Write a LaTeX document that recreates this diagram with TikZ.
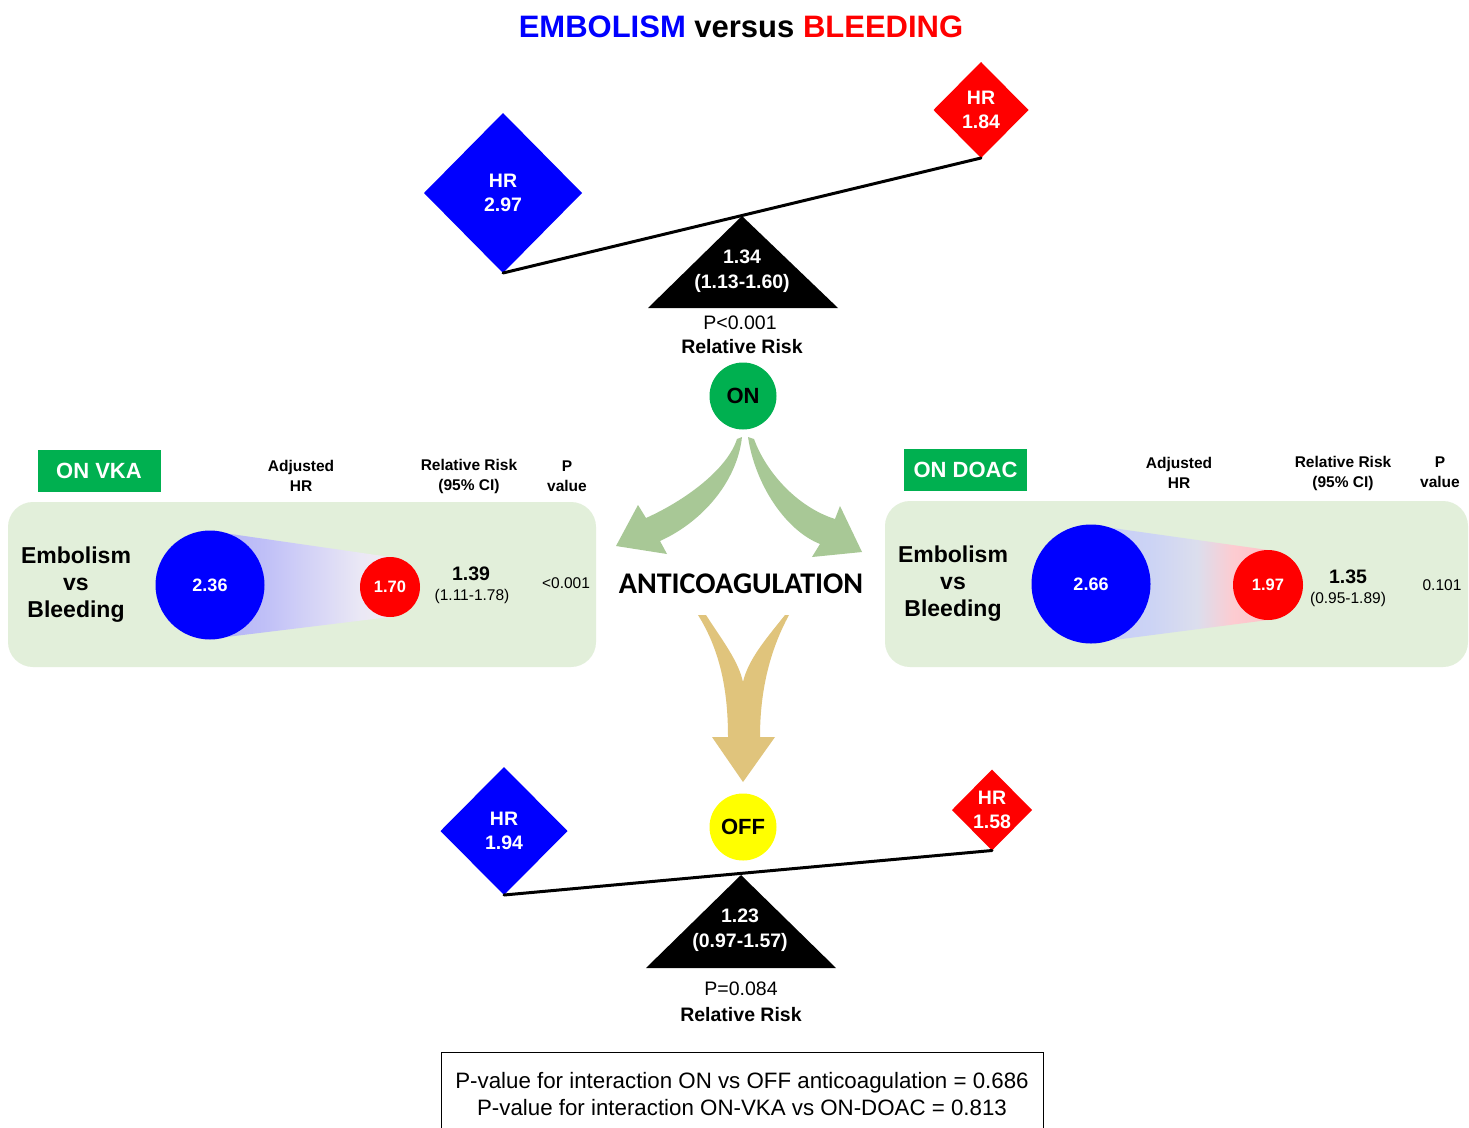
\documentclass[tikz,border=0pt]{standalone}
\usepackage{fontspec}
\setmainfont{Liberation Sans}
\newfontfamily\calfont{Carlito}
\usetikzlibrary{shapes.geometric}
\definecolor{ongreen}{RGB}{0,176,80}
\definecolor{panelgreen}{RGB}{226,239,218}
\definecolor{arrowgreen}{RGB}{168,200,150}
\definecolor{tanarrow}{RGB}{224,196,124}
\definecolor{offyellow}{RGB}{255,255,0}
\definecolor{pblue}{RGB}{0,0,255}
\definecolor{pred}{RGB}{255,0,0}
\pgfdeclarehorizontalshading{vkashade}{100bp}{rgb(0bp)=(0.70,0.70,0.96); rgb(25bp)=(0.70,0.70,0.96); rgb(40bp)=(0.75,0.75,0.97); rgb(67bp)=(0.92,0.91,0.96); rgb(75bp)=(0.95,0.92,0.95); rgb(100bp)=(0.95,0.92,0.95)}
\pgfdeclarehorizontalshading{doacshade}{100bp}{rgb(0bp)=(0.78,0.80,0.97); rgb(25bp)=(0.78,0.80,0.97); rgb(42bp)=(0.80,0.83,0.96); rgb(55bp)=(0.86,0.87,0.93); rgb(65bp)=(0.99,0.80,0.82); rgb(75bp)=(1,0.76,0.78); rgb(100bp)=(1,0.76,0.78)}
\newcommand\myfs[2]{\fontsize{#1}{#2}\selectfont}
\begin{document}
\begin{tikzpicture}[x=1pt,y=-1pt,
  dia/.style={diamond,aspect=1,inner sep=0pt,outer sep=0pt,text=white,align=center,font=\myfs{19.5}{24}\bfseries},
  trilab/.style={text=white,align=center,font=\myfs{19.5}{25}\bfseries,inner sep=0pt},
  plainlab/.style={font=\myfs{19.5}{23},inner sep=0pt},
  boldlab/.style={font=\myfs{19.5}{23}\bfseries,inner sep=0pt},
  hdr/.style={align=center,font=\myfs{15.5}{20}\bfseries,inner sep=0pt},
  evb/.style={align=center,font=\myfs{23}{27}\bfseries,inner sep=0pt},
  tagbox/.style={fill=ongreen,text=white,font=\myfs{22}{26}\bfseries,minimum width=123,minimum height=42,inner sep=0pt},
  ball/.style={circle,inner sep=0pt,outer sep=0pt,text=white,font=\myfs{18}{20}\bfseries},
  panelbox/.style={fill=panelgreen,rounded corners=25,inner sep=0pt},
  rrlab/.style={font=\myfs{19.5}{22}\bfseries,inner sep=0pt},
  cilab/.style={font=\myfs{15.5}{18},inner sep=0pt},
  onoff/.style={circle,minimum size=67,inner sep=0pt,font=\myfs{22}{24}\bfseries},
  beam/.style={line width=3pt,line cap=round}
]
\useasboundingbox (0,0) rectangle (1469,1127);
\fill[white] (0,0) rectangle (1469,1127);

% Title
\node[font=\myfs{31}{36}\bfseries] (title) at (741,27) {\textcolor{pblue}{EMBOLISM} versus \textcolor{pred}{BLEEDING}};

% ---------- Top seesaw ----------
\coordinate (apex1) at (742,216);
\coordinate (bl1) at (648,308);
\coordinate (br1) at (838,308);
\fill[black] (apex1) -- (br1) -- (bl1) -- cycle;
\node[dia,fill=pblue,minimum width=158,minimum height=160] (d1) at (503,193) {HR\\2.97};
\node[dia,fill=pred,minimum width=95,minimum height=96] (d2) at (981,110) {HR\\1.84};
\draw[beam] (d1.south) -- (d2.south);
\node[trilab] (rr1) at (742,271) {1.34\\(1.13-1.60)};
\node[plainlab] (p1) at (740,323) {P<0.001};
\node[boldlab] (rl1) at (742,347) {Relative Risk};
\node[onoff,fill=ongreen] (on) at (743,396) {ON};

% ---------- Green arrows ----------
\fill[arrowgreen] (737,439) .. controls (727,470) and (684,501) .. (646,518)
  -- (638,505) -- (616,546) -- (667,554) -- (660,541)
  .. controls (702,522) and (737,482) .. (742,437) -- cycle;
\fill[arrowgreen] (754,439) .. controls (766,472) and (797,507) .. (835,519)
  -- (840,506) -- (862,552) -- (812,557) -- (820,544)
  .. controls (785,530) and (755,484) .. (748,437) -- cycle;

\node[font=\myfs{30}{32}\calfont\bfseries] (anti) at (741,584) {ANTICOAGULATION};

% ---------- Tan arrow ----------
\fill[tanarrow] (698,615) .. controls (720,650) and (728,690) .. (728,737)
  -- (712,737) -- (743,782) -- (775,737) -- (760,737)
  .. controls (760,690) and (770,650) .. (789,615)
  -- (785,615) .. controls (765,640) and (748,660) .. (743,682)
  .. controls (738,660) and (722,640) .. (706,615) -- cycle;

% ---------- Left panel (VKA) ----------
\node[tagbox] (vka) at (99,470.5) {ON VKA};
\node[hdr] (h1a) at (301,476) {Adjusted\\HR};
\node[hdr] (h1b) at (469,476) {Relative Risk\\(95\% CI)};
\node[hdr] (h1c) at (567,476) {P\\value};
\node[panelbox,minimum width=588,minimum height=165] (panL) at (302,584.5) {};
\node[evb] (evbL) at (76,585) {Embolism\\vs\\Bleeding};
\shade[shading=vkashade] (210,531) -- (390,557) -- (390,617) -- (210,639) -- cycle;
\node[ball,fill=pblue,minimum size=109] (bL) at (210,585) {2.36};
\node[ball,fill=pred,minimum size=60,font=\myfs{16.5}{20}\bfseries] (rL) at (390,587) {1.70};
\node[rrlab] (rrL) at (471,574) {1.39};
\node[cilab] (ciL) at (472,596) {(1.11-1.78)};
\node[cilab] (pvL) at (566,583) {<0.001};

% ---------- Right panel (DOAC) ----------
\node[tagbox] (doac) at (965.5,470) {ON DOAC};
\node[hdr] (h2a) at (1179,473) {Adjusted\\HR};
\node[hdr] (h2b) at (1343,473) {Relative Risk\\(95\% CI)};
\node[hdr] (h2c) at (1440,472) {P\\value};
\node[panelbox,minimum width=583,minimum height=166] (panR) at (1176.5,584) {};
\node[evb] (evbR) at (953,584) {Embolism\\vs\\Bleeding};
\shade[shading=doacshade] (1091,525) -- (1268,550) -- (1268,620) -- (1091,643) -- cycle;
\node[ball,fill=pblue,minimum size=119] (bR) at (1091,584) {2.66};
\node[ball,fill=pred,minimum size=70,font=\myfs{16.5}{20}\bfseries] (rR) at (1268,585) {1.97};
\node[rrlab] (rrR) at (1348,577) {1.35};
\node[cilab] (ciR) at (1348,599) {(0.95-1.89)};
\node[cilab] (pvR) at (1442,585) {0.101};

% ---------- Bottom seesaw ----------
\coordinate (apex2) at (741,875);
\coordinate (bl2) at (646,968);
\coordinate (br2) at (836,968);
\fill[black] (apex2) -- (br2) -- (bl2) -- cycle;
\node[dia,fill=pblue,minimum width=127,minimum height=128] (d3) at (504,831) {HR\\1.94};
\node[dia,fill=pred,minimum width=80,minimum height=81] (d4) at (992,810) {HR\\1.58};
\draw[beam] (d3.south) -- (d4.south);
\node[onoff,fill=offyellow] (off) at (743,827) {OFF};
\node[trilab] (rr2) at (740,930.5) {1.23\\(0.97-1.57)};
\node[plainlab] (p2) at (741,989) {P=0.084};
\node[boldlab] (rl2) at (741,1015) {Relative Risk};

% ---------- Bottom box ----------
\node[draw,line width=1pt,minimum width=602,minimum height=84,anchor=north,align=center,font=\myfs{22.3}{27}] (box) at (742,1052)
  {P-value for interaction ON vs OFF anticoagulation = 0.686\\P-value for interaction ON-VKA vs ON-DOAC = 0.813};
\end{tikzpicture}
\end{document}
